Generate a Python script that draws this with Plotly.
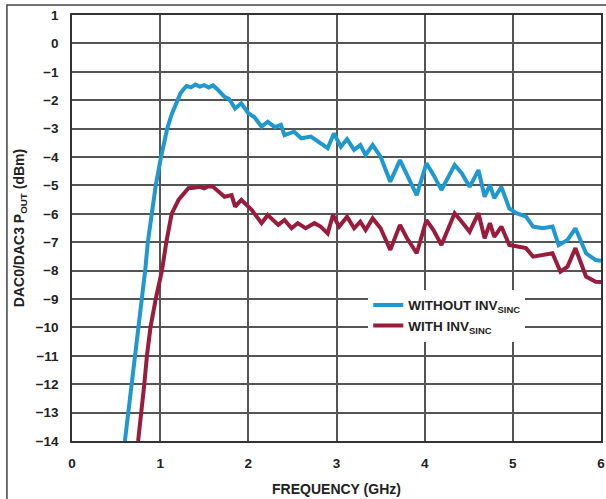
import plotly.graph_objects as go

# Frequency (GHz) / output power (dBm)
without_x = [0.60, 0.64, 0.67, 0.71, 0.76, 0.80, 0.83, 0.86, 0.90, 0.95, 1.01, 1.08, 1.13, 1.19, 1.23, 1.27, 1.30, 1.35, 1.40, 1.45, 1.50, 1.55, 1.60, 1.66, 1.73, 1.78, 1.85, 1.92, 2.00, 2.07, 2.15, 2.22, 2.30, 2.37, 2.41, 2.52, 2.60, 2.71, 2.79, 2.90, 2.97, 3.05, 3.12, 3.20, 3.27, 3.33, 3.41, 3.50, 3.61, 3.72, 3.80, 3.91, 4.02, 4.10, 4.19, 4.34, 4.42, 4.51, 4.61, 4.68, 4.74, 4.79, 4.87, 4.96, 5.04, 5.15, 5.23, 5.34, 5.45, 5.52, 5.62, 5.71, 5.83, 5.94, 6.00]
without_y = [-14, -13, -12, -11, -10, -9, -8, -7, -6, -5, -4, -3, -2.5, -2.1, -1.76, -1.6, -1.5, -1.55, -1.45, -1.52, -1.47, -1.55, -1.48, -1.65, -1.88, -1.95, -2.29, -2.11, -2.46, -2.6, -2.93, -2.76, -2.95, -2.87, -3.23, -3.11, -3.34, -3.28, -3.46, -3.69, -3.17, -3.64, -3.37, -3.75, -3.58, -3.93, -3.58, -3.99, -4.87, -4.11, -4.63, -5.34, -4.22, -4.63, -5.16, -4.28, -4.57, -5.05, -4.46, -5.40, -4.99, -5.45, -5.05, -5.81, -5.98, -6.10, -6.45, -6.51, -6.45, -7.10, -6.92, -6.51, -7.39, -7.63, -7.65]

with_x = [0.75, 0.79, 0.82, 0.85, 0.89, 0.95, 1.02, 1.07, 1.13, 1.21, 1.27, 1.32, 1.38, 1.45, 1.50, 1.55, 1.60, 1.66, 1.73, 1.81, 1.85, 1.92, 2.04, 2.15, 2.22, 2.34, 2.41, 2.49, 2.56, 2.65, 2.75, 2.82, 2.90, 2.96, 3.03, 3.12, 3.20, 3.27, 3.33, 3.41, 3.50, 3.61, 3.72, 3.80, 3.91, 4.02, 4.10, 4.19, 4.34, 4.42, 4.51, 4.61, 4.68, 4.74, 4.79, 4.87, 4.96, 5.07, 5.15, 5.23, 5.34, 5.45, 5.54, 5.62, 5.71, 5.83, 5.94, 6.00]
with_y = [-14, -13, -12, -11, -10, -9, -8, -7, -6, -5.5, -5.3, -5.1, -5.08, -5.05, -5.1, -5.03, -5.05, -5.2, -5.4, -5.34, -5.75, -5.51, -5.87, -6.33, -6.04, -6.39, -6.22, -6.51, -6.33, -6.51, -6.33, -6.45, -6.69, -6.04, -6.45, -6.10, -6.51, -6.28, -6.57, -6.16, -6.51, -7.27, -6.39, -6.86, -7.39, -6.22, -6.57, -7.10, -5.98, -6.28, -6.63, -5.98, -6.86, -6.33, -6.81, -6.45, -7.10, -7.16, -7.21, -7.51, -7.45, -7.39, -8.04, -7.86, -7.21, -8.21, -8.39, -8.4]

series_names = ["WITHOUT INV<sub>SINC</sub>", "WITH INV<sub>SINC</sub>"]
x_ticks = [0, 1, 2, 3, 4, 5, 6]
y_ticks = list(range(-14, 2))

BLUE = "#1f98d0"
RED = "#9a1c3c"
FONT = "Liberation Sans"

fig = go.Figure()
fig.add_trace(go.Scatter(x=without_x, y=without_y, mode="lines", name=series_names[0],
                         line=dict(color=BLUE, width=4)))
fig.add_trace(go.Scatter(x=with_x, y=with_y, mode="lines", name=series_names[1],
                         line=dict(color=RED, width=4)))

axis_common = dict(showgrid=True, gridcolor="#555555", gridwidth=1.5,
                   showline=True, linecolor="#333333", linewidth=1.5, mirror=True,
                   zeroline=False, ticks="", ticklabeloverflow="allow",
                   tickfont=dict(family=FONT, size=13.5, color="#222", weight="bold"))

fig.update_xaxes(range=[0, 6], tickvals=x_ticks, ticklabelstandoff=9,
                 title=dict(text="FREQUENCY (GHz)", standoff=14,
                            font=dict(family=FONT, size=14, color="#222", weight="bold")),
                 **axis_common)
fig.update_yaxes(range=[-14, 1], tickvals=y_ticks, ticklabelstandoff=9,
                 title=dict(text="DAC0/DAC3 P<sub>OUT</sub> (dBm)", standoff=8,
                            font=dict(family=FONT, size=14, color="#222", weight="bold")),
                 **axis_common)

fig.update_layout(
    width=606, height=499,
    margin=dict(l=72, r=1, t=15, b=58),
    paper_bgcolor="white", plot_bgcolor="white",
    showlegend=True,
    legend=dict(x=0.56, y=0.355, xanchor="left", yanchor="top",
                bgcolor="white", borderwidth=0, tracegroupgap=0,
                font=dict(family=FONT, size=13.5, color="#222", weight="bold")),
    shapes=[dict(type="rect", xref="paper", yref="paper",
                 x0=-0.123, x1=1.02, y0=-0.16, y1=1.0235,
                 line=dict(color="#444", width=1.5), layer="below")],
)

fig.write_html("out.html")
